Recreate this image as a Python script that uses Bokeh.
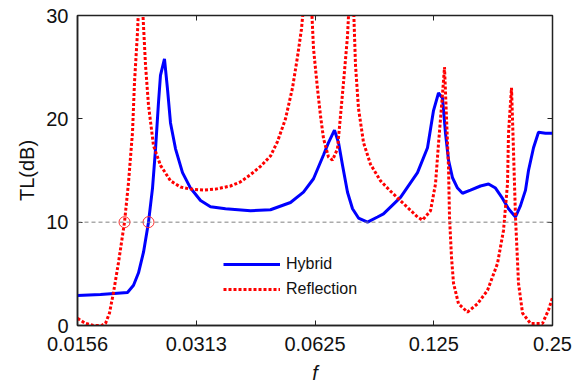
from bokeh.plotting import figure
from bokeh.models import (FixedTicker, LogAxis, LinearAxis, Span, Legend, LegendItem, Title)
from bokeh.embed import file_html
from bokeh.resources import INLINE

# ---- data ----
hybrid_f = [0.01563, 0.01787, 0.02092, 0.02167, 0.02231, 0.02297, 0.02365, 0.02421,
            0.02464, 0.02507, 0.02536, 0.02596, 0.02642, 0.02689, 0.02769, 0.02884,
            0.03022, 0.03204, 0.03396, 0.03707, 0.04289, 0.04820, 0.05417, 0.05844,
            0.06196, 0.06568, 0.06762, 0.07003, 0.07169, 0.07339, 0.07556, 0.07780,
            0.08057, 0.08491, 0.09002, 0.09322, 0.10295, 0.11369, 0.12053, 0.12483,
            0.12852, 0.13156, 0.13388, 0.13625, 0.13946, 0.14359, 0.14785, 0.15491,
            0.16422, 0.17208, 0.17925, 0.18672, 0.19338, 0.20144, 0.20741, 0.21356,
            0.21732, 0.22377, 0.23039, 0.24000, 0.25]
hybrid_tl = [2.9, 3.0, 3.2, 3.9, 5.1, 7.1, 10.0, 13.3,
             17.1, 21.6, 24.2, 25.8, 22.9, 19.6, 17.1, 14.8,
             13.3, 12.1, 11.5, 11.3, 11.1, 11.2, 11.9, 12.9,
             14.2, 16.5, 17.7, 18.9, 17.7, 15.5, 12.9, 11.3,
             10.4, 10.0, 10.5, 10.8, 12.4, 14.8, 17.2, 20.8,
             22.5, 22.0, 18.6, 16.0, 14.3, 13.3, 12.8, 13.1,
             13.5, 13.7, 13.3, 12.3, 11.3, 10.5, 11.6, 13.1,
             15.0, 17.2, 18.7, 18.6, 18.6]

refl_f = [0.01563, 0.01637, 0.01715, 0.01797, 0.01840, 0.01883, 0.01928, 0.01985,
          0.02056, 0.02104, 0.02154, 0.02179, 0.02218, 0.02250, 0.02283, 0.02324,
          0.02365, 0.02435, 0.02536, 0.02689, 0.02850, 0.03022, 0.03260, 0.03497,
          0.03817, 0.04046, 0.04289, 0.04547, 0.04820, 0.05021, 0.05261, 0.05481,
          0.05643, 0.05776, 0.05947,
          0.06123, 0.06196, 0.06342, 0.06454, 0.06568, 0.06762, 0.06922, 0.07127,
          0.07253, 0.07381, 0.07556, 0.07690, 0.07825, 0.07917, 0.08057, 0.08296,
          0.08642, 0.09161, 0.09711, 0.10477, 0.11369, 0.11706, 0.12266, 0.12629,
          0.12852, 0.13156, 0.13310, 0.13466, 0.13625, 0.13704, 0.13865, 0.14028,
          0.14443, 0.15222, 0.16137, 0.17108, 0.18135, 0.18781, 0.19225, 0.19338,
          0.19680, 0.19910, 0.20144, 0.20500, 0.20986, 0.21989, 0.23584, 0.24425,
          0.25]
refl_tl = [0.7, 0.2, 0.0, 0.0, 0.2, 1.2, 3.2, 6.1,
           10.0, 13.8, 18.7, 23.5, 28.4, 34.0, 31.0, 25.2,
           21.3, 17.4, 15.5, 14.0, 13.4, 13.2, 13.1, 13.2,
           13.5, 13.9, 14.6, 15.4, 16.4, 17.8, 20.0, 23.0,
           26.0, 28.7, 34.0,
           31.0, 26.8, 22.9, 20.3, 18.1, 16.3, 16.0, 17.1,
           20.3, 23.5, 28.0, 34.0, 31.0, 25.2, 21.0, 17.7,
           15.6, 14.0, 13.0, 11.8, 10.5, 10.2, 11.1, 13.7,
           17.6, 22.4, 25.0, 20.1, 15.3, 10.5, 6.6, 4.1,
           2.1, 1.3, 2.1, 3.4, 6.0, 9.2, 13.7, 18.6,
           23.0, 16.9, 10.5, 4.1, 1.2, 0.2, 0.2, 1.5,
           2.7]

marker_f = [0.02056, 0.02365]
marker_tl = [10.0, 10.0]
threshold = 10.0

x_ticks = [0.015625, 0.03125, 0.0625, 0.125, 0.25]
x_tick_labels = ["0.0156", "0.0313", "0.0625", "0.125", "0.25"]
y_ticks = [0, 10, 20, 30]

FONT = "Liberation Sans"
AX = "#222222"

p = figure(width=573, height=386, x_axis_type="log",
           x_range=(0.015625, 0.25), y_range=(0, 30),
           output_backend="svg", toolbar_location=None,
           min_border_left=77, min_border_right=21, min_border_top=15,
           min_border_bottom=61)
p.background_fill_color = "white"
p.border_fill_color = "white"
p.outline_line_color = AX
p.outline_line_width = 1.5
p.xgrid.visible = False
p.ygrid.visible = False

for ax in p.xaxis:
    ax.ticker = FixedTicker(ticks=x_ticks)
    ax.major_label_overrides = {t: l for t, l in zip(x_ticks, x_tick_labels)}
for ax in p.yaxis:
    ax.ticker = FixedTicker(ticks=y_ticks)

for ax in list(p.xaxis) + list(p.yaxis):
    ax.major_tick_in = 5
    ax.major_tick_out = 0
    ax.minor_tick_line_color = None
    ax.axis_line_color = AX
    ax.axis_line_width = 1.5
    ax.major_tick_line_color = AX
    ax.major_label_text_font = FONT
    ax.major_label_text_font_size = "20px"
    ax.major_label_text_color = "#111111"
    ax.axis_label_text_font = FONT
    ax.axis_label_text_color = "#111111"

p.xaxis.axis_label = "f"
p.xaxis.axis_label_text_font_style = "italic"
p.xaxis.axis_label_text_font_size = "20px"
p.xaxis.axis_label_standoff = 8
p.xaxis.major_label_standoff = 11
p.yaxis.major_label_standoff = 9

top_ax = LogAxis(ticker=FixedTicker(ticks=x_ticks), major_tick_in=5, major_tick_out=0,
                 minor_tick_line_color=None,
                 major_label_overrides={t: "" for t in x_ticks},
                 axis_line_color=AX, major_tick_line_color=AX)
right_ax = LinearAxis(ticker=FixedTicker(ticks=y_ticks), major_tick_in=5, major_tick_out=0,
                      minor_tick_line_color=None,
                      major_label_overrides={t: "" for t in y_ticks},
                      axis_line_color=AX, major_tick_line_color=AX)
p.add_layout(top_ax, "above")
p.add_layout(right_ax, "right")

# y-axis title as a left-side title
ytitle = Title(text="TL(dB)", align="center", text_font=FONT, text_font_size="20px",
               text_font_style="normal", text_color="#111111", standoff=11)
p.add_layout(ytitle, "left")

p.add_layout(Span(location=threshold, dimension="width", line_color="#808080",
                  line_width=1, line_dash="4 3"))

r_h = p.line(hybrid_f, hybrid_tl, line_color="#0000ff", line_width=3)
r_r = p.line(refl_f, refl_tl, line_color="#ff0000", line_width=3, line_dash="3 2")
p.scatter(marker_f, marker_tl, marker="circle", size=11, fill_color=None,
          line_color="#ff3030", line_width=1)

legend = Legend(items=[LegendItem(label="Hybrid", renderers=[r_h]),
                       LegendItem(label="Reflection", renderers=[r_r])],
                location=(146, 26), orientation="vertical")
legend.background_fill_alpha = 0
legend.border_line_color = None
legend.label_text_font = FONT
legend.label_text_font_size = "16px"
legend.label_text_color = "#111111"
legend.glyph_width = 57
legend.label_standoff = 6
legend.spacing = 5
legend.padding = 0
p.add_layout(legend, "center")

open("out.html", "w").write(file_html(p, INLINE))
